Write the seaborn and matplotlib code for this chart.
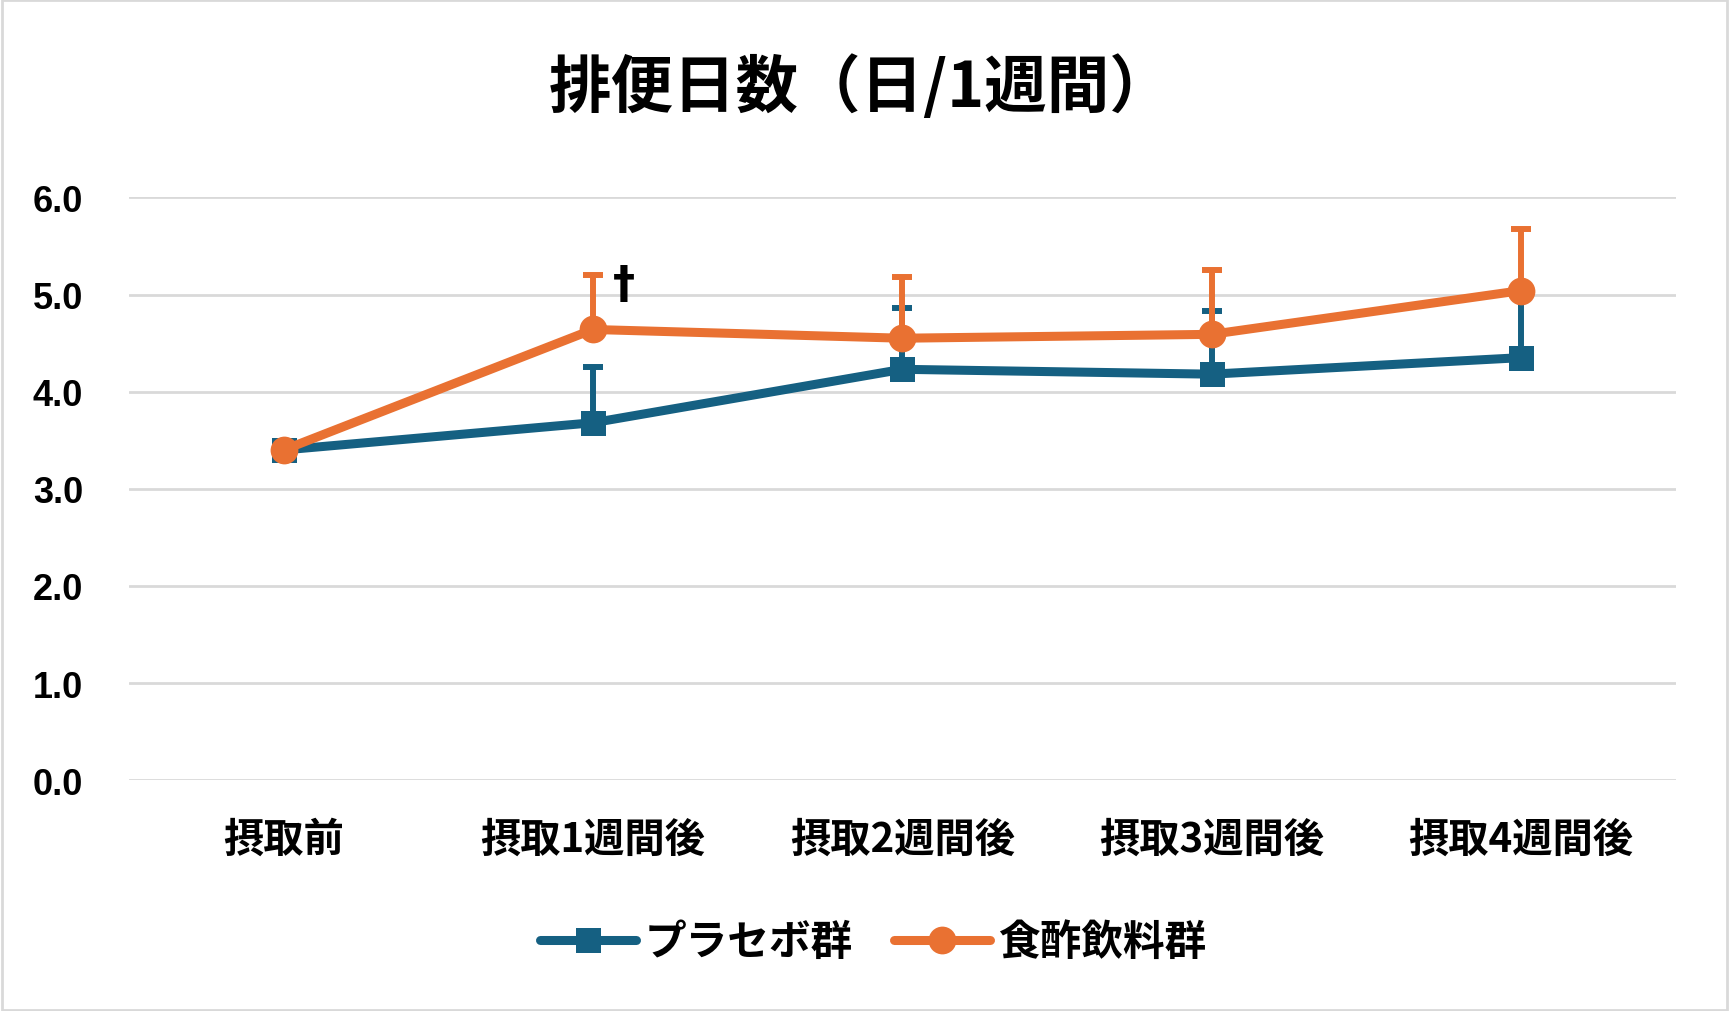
import numpy as np
import pandas as pd
import matplotlib
matplotlib.use('Agg')
import matplotlib.pyplot as plt
import seaborn as sns

# data
categories = ['摂取前', '摂取1週間後', '摂取2週間後', '摂取3週間後', '摂取4週間後']
placebo_mean = [3.40, 3.68, 4.23, 4.18, 4.35]
placebo_upper = [3.40, 4.25, 4.86, 4.83, 4.98]
vinegar_mean = [3.40, 4.64, 4.55, 4.59, 5.04]
vinegar_upper = [3.40, 5.20, 5.18, 5.25, 5.67]
series_names = ['プラセボ群', '食酢飲料群']
yticks = [0, 1, 2, 3, 4, 5, 6]

BLUE = '#156082'
ORANGE = '#E97132'
CJK = ['Noto Sans CJK JP', 'DejaVu Sans']

sns.set_style('white')
plt.rcParams['font.family'] = CJK
plt.rcParams['text.color'] = 'black'
plt.rcParams['xtick.color'] = 'black'
plt.rcParams['ytick.color'] = 'black'

x = np.arange(len(categories))
df = pd.DataFrame({
    'x': np.concatenate([x, x]),
    'value': placebo_mean + vinegar_mean,
    'upper': placebo_upper + vinegar_upper,
    'group': [series_names[0]] * len(x) + [series_names[1]] * len(x),
})

fig = plt.figure(figsize=(17.29, 10.12), dpi=100)
ax = fig.add_axes([0.0746, 0.228, 0.8945, 0.576])

styles = {series_names[0]: (BLUE, 's', 18), series_names[1]: (ORANGE, 'o', 20)}
for z, name in enumerate(series_names):
    sub = df[df['group'] == name]
    color, marker, ms = styles[name]
    err = sub['upper'].values - sub['value'].values
    ax.errorbar(sub['x'], sub['value'], yerr=[np.zeros_like(err), err], fmt='none',
                ecolor=color, elinewidth=4.3, capsize=7, capthick=4.3, zorder=3 + 2 * z)
    sns.lineplot(data=sub, x='x', y='value', ax=ax, color=color, marker=marker,
                 markersize=ms, markeredgewidth=0, linewidth=6.5, label=name,
                 legend=False, zorder=4 + 2 * z)

ax.set_xlim(-0.5, len(categories) - 0.5)
ax.set_ylim(0, 6)
ax.set_yticks(yticks)
ax.set_yticklabels([f'{v:.1f}' for v in yticks], fontfamily='Liberation Sans',
                   fontweight='bold', fontsize=26)
ax.set_xticks(x)
ax.set_xticklabels(categories, fontweight='bold', fontsize=29)
ax.tick_params(axis='y', length=0, pad=33)
ax.tick_params(axis='x', length=0, pad=28)
ax.set_xlabel('')
ax.set_ylabel('')
ax.grid(axis='y', color='#D9D9D9', linewidth=2)
ax.set_axisbelow(True)
for s in ax.spines.values():
    s.set_visible(False)

# significance mark
ax.text(1.1, 5.1, '†', fontsize=32, fontweight='bold', ha='center', va='center',
        fontfamily='DejaVu Sans')

fig.text(0.4975, 0.913, '排便日数（日/1週間）', ha='center', va='center',
         fontsize=45, fontweight='bold')

handles, labels = ax.get_legend_handles_labels()
fig.legend(handles, labels, loc='center', bbox_to_anchor=(0.505, 0.068), ncol=2,
           frameon=False, prop={'family': CJK, 'weight': 'bold', 'size': 30},
           handlelength=2.3, handletextpad=0.2, columnspacing=1.0)

# light frame around the whole figure
fig.patches.append(plt.Rectangle((0.001, 0.001), 0.998, 0.998, transform=fig.transFigure,
                                 fill=False, edgecolor='#D9D9D9', linewidth=2))

fig.savefig('out.png', dpi=100)
